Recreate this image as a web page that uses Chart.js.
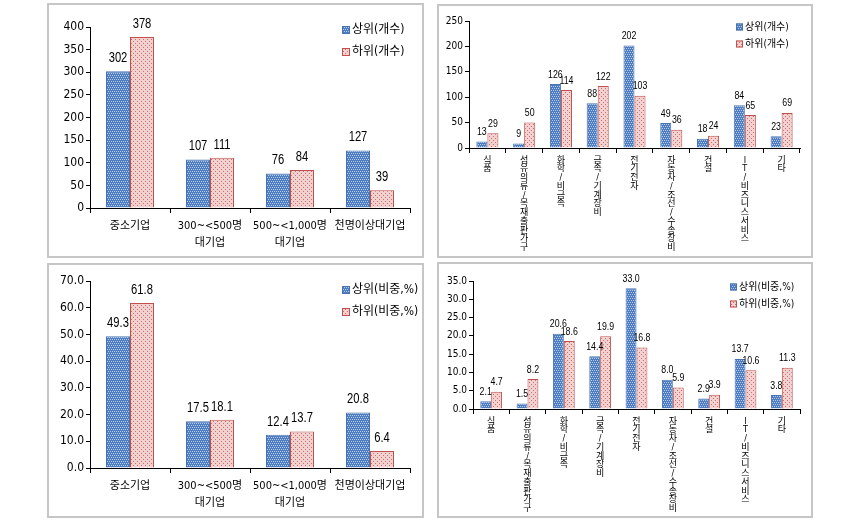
<!DOCTYPE html>
<html>
<head>
<meta charset="utf-8">
<script src="https://cdn.jsdelivr.net/npm/chart.js@4.4.1/dist/chart.umd.min.js"></script>
<style>
body { margin: 0; background: #fff; width: 860px; height: 520px; position: relative; overflow: hidden; }
.panel { position: absolute; border: 2px solid #c6c6c6; box-sizing: border-box; background: #fff; }
.panel canvas { position: absolute; left: 0; top: 0; }
</style>
</head>
<body>
<div class="panel" style="left:47px;top:3px;width:377px;height:255px"><canvas id="c1" width="373" height="251"></canvas></div>
<div class="panel" style="left:437px;top:4px;width:376px;height:254px"><canvas id="c2" width="372" height="250"></canvas></div>
<div class="panel" style="left:47px;top:263px;width:377px;height:255px"><canvas id="c3" width="373" height="251"></canvas></div>
<div class="panel" style="left:437px;top:262px;width:376px;height:256px"><canvas id="c4" width="372" height="252"></canvas></div>
<script>
// data
const sizeCats = [['중소기업'], ['300~<500명', '대기업'], ['500~<1,000명', '대기업'], ['천명이상대기업']];
const sizeTopCount = [302, 107, 76, 127];
const sizeBottomCount = [378, 111, 84, 39];
const sizeTopShare = [49.3, 17.5, 12.4, 20.8];
const sizeBottomShare = [61.8, 18.1, 13.7, 6.4];

const industryCats = ['식품', '섬유의류/목재출판가구', '화학/비금속', '금속/기계장비', '전기전자',
  '자동차/조선/수송장비', '건설', 'IT/비즈니스서비스', '기타'];
const indTopCount = [13, 9, 126, 88, 202, 49, 18, 84, 23];
const indBottomCount = [29, 50, 114, 122, 103, 36, 24, 65, 69];
const indTopShare = [2.1, 1.5, 20.6, 14.4, 33.0, 8.0, 2.9, 13.7, 3.8];
const indBottomShare = [4.7, 8.2, 18.6, 19.9, 16.8, 5.9, 3.9, 10.6, 11.3];

const countLegend = ['상위(개수)', '하위(개수)'];
const shareLegend = ['상위(비중,%)', '하위(비중,%)'];

const FONT = '"DejaVu Sans Condensed", "Liberation Sans", "Noto Sans CJK KR", sans-serif';
const NUMFONT = '"Liberation Sans", "Noto Sans CJK KR", sans-serif';

// dotted fills like the excel patterns
function makePattern(base, dot, dots) {
  const c = document.createElement('canvas');
  c.width = 4; c.height = 4;
  const g = c.getContext('2d');
  g.fillStyle = base;
  g.fillRect(0, 0, 4, 4);
  g.fillStyle = dot;
  dots.forEach(p => g.fillRect(p[0], p[1], 1, 1));
  return g.createPattern(c, 'repeat');
}
const bluePat = makePattern('#4f7ec0', '#b4c8e8', [[0, 0], [2, 0], [1, 2], [3, 2]]);
const pinkPat = makePattern('#f1d2d1', '#cf6d6a', [[0, 0], [2, 2]]);

// numbers above bars, squeezed a bit like the narrow font of the original
const valueLabels = {
  id: 'valueLabels',
  afterDatasetsDraw(chart, args, opts) {
    const ctx = chart.ctx;
    ctx.save();
    ctx.font = opts.size + 'px ' + NUMFONT;
    ctx.fillStyle = '#000';
    ctx.textAlign = 'center';
    ctx.textBaseline = 'bottom';
    chart.data.datasets.forEach((ds, i) => {
      chart.getDatasetMeta(i).data.forEach((bar, j) => {
        ctx.save();
        ctx.translate(bar.x, bar.y - opts.gap);
        ctx.scale(0.8, 1);
        ctx.fillText(opts.fmt(ds.data[j]), 0, 0);
        ctx.restore();
      });
    });
    ctx.restore();
  }
};

const boxLegend = {
  id: 'boxLegend',
  afterDraw(chart, args, opts) {
    const ctx = chart.ctx;
    ctx.save();
    ctx.font = opts.size + 'px ' + FONT;
    ctx.textBaseline = 'middle';
    chart.data.datasets.forEach((ds, i) => {
      const y = opts.y + i * opts.gap;
      ctx.fillStyle = ds.backgroundColor;
      ctx.fillRect(opts.x, y - opts.box / 2, opts.box, opts.box);
      ctx.strokeStyle = ds.borderColor;
      ctx.lineWidth = 1;
      ctx.strokeRect(opts.x + 0.5, y - opts.box / 2 + 0.5, opts.box - 1, opts.box - 1);
      ctx.fillStyle = '#000';
      ctx.fillText(ds.label, opts.x + opts.box + 2, y);
    });
    ctx.restore();
  }
};

function makeChart(id, cats, top, bottom, names, o) {
  new Chart(document.getElementById(id), {
    type: 'bar',
    data: {
      labels: cats,
      datasets: [
        { label: names[0], data: top, backgroundColor: bluePat, borderColor: '#4a74b0', borderWidth: 1 },
        { label: names[1], data: bottom, backgroundColor: pinkPat, borderColor: '#c0504d', borderWidth: 1 }
      ]
    },
    options: {
      responsive: false,
      animation: false,
      layout: { padding: { top: o.padTop, right: o.padRight, left: 0, bottom: 0 } },
      datasets: { bar: { barPercentage: 1, categoryPercentage: 0.6 } },
      plugins: {
        legend: { display: false },
        tooltip: { enabled: false },
        valueLabels: { size: o.valSize, gap: o.valGap, fmt: o.fmt },
        boxLegend: o.legend
      },
      scales: {
        x: {
          grid: { drawOnChartArea: false, offset: true, color: '#000', tickLength: 5 },
          border: { color: '#000' },
          ticks: { color: '#000', font: { family: FONT, size: o.xSize, lineHeight: o.xLine },
            maxRotation: 0, minRotation: 0, autoSkip: false, padding: o.xPad },
          afterFit(s) { s.height = o.xH; }
        },
        y: {
          min: 0, max: o.max,
          grid: { drawOnChartArea: false, color: '#000', tickLength: 4 },
          border: { color: '#000' },
          ticks: { stepSize: o.step, color: '#000', padding: 2, font: { family: FONT, size: o.ySize },
            callback: v => o.fmt(v) },
          afterFit(s) { s.width = o.yW; }
        }
      }
    },
    plugins: [valueLabels, boxLegend]
  });
}

const intFmt = v => String(Math.round(v));
const oneFmt = v => Number(v).toFixed(1);
const stacked = s => s.split('');

makeChart('c1', sizeCats, sizeTopCount, sizeBottomCount, countLegend, {
  padTop: 22, padRight: 12, yW: 41, xH: 48, max: 400, step: 50, fmt: intFmt,
  valSize: 14, valGap: 6, xSize: 11, xLine: 1.55, xPad: 5, ySize: 12,
  legend: { x: 293, y: 25, gap: 22, box: 8, size: 12 }
});
makeChart('c2', industryCats.map(stacked), indTopCount, indBottomCount, countLegend, {
  padTop: 15, padRight: 11, yW: 30, xH: 108, max: 250, step: 50, fmt: intFmt,
  valSize: 11, valGap: 4, xSize: 9, xLine: 0.97, xPad: 3, ySize: 10,
  legend: { x: 297, y: 21, gap: 17, box: 7, size: 10 }
});
makeChart('c3', sizeCats, sizeTopShare, sizeBottomShare, shareLegend, {
  padTop: 16, padRight: 12, yW: 41, xH: 48, max: 70, step: 10, fmt: oneFmt,
  valSize: 14, valGap: 6, xSize: 11, xLine: 1.55, xPad: 5, ySize: 12,
  legend: { x: 293, y: 25, gap: 22, box: 8, size: 12 }
});
makeChart('c4', industryCats.map(stacked), indTopShare, indBottomShare, shareLegend, {
  padTop: 17, padRight: 11, yW: 34, xH: 107, max: 35, step: 5, fmt: oneFmt,
  valSize: 11, valGap: 4, xSize: 9, xLine: 0.97, xPad: 3, ySize: 10,
  legend: { x: 291, y: 23, gap: 17, box: 7, size: 10 }
});
</script>
</body>
</html>
